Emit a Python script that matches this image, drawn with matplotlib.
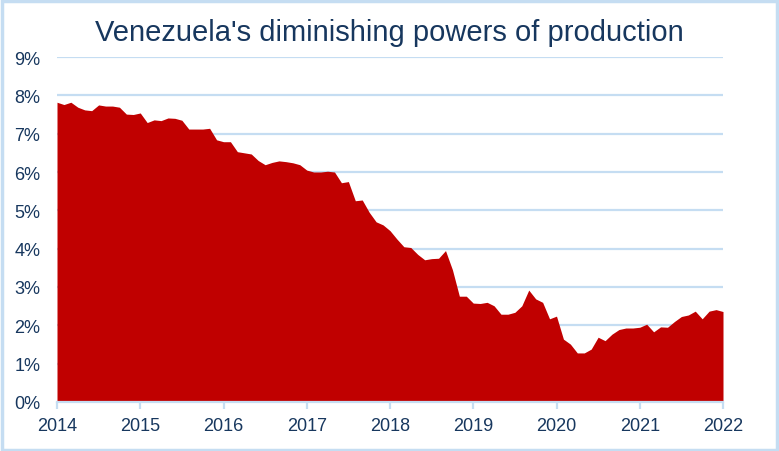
import matplotlib.pyplot as plt
import numpy as np

# monthly share, Jan 2014 .. Jan 2022 (%)
share = [
    7.82, 7.76, 7.82, 7.69, 7.62, 7.60, 7.75, 7.72, 7.72, 7.69, 7.51, 7.50,
    7.54, 7.29, 7.36, 7.34, 7.41, 7.40, 7.35, 7.12, 7.12, 7.12, 7.14, 6.84,
    6.79, 6.79, 6.53, 6.50, 6.47, 6.30, 6.19, 6.25, 6.29, 6.27, 6.24, 6.19,
    6.05, 6.00, 6.00, 6.02, 6.00, 5.72, 5.75, 5.25, 5.27, 4.95, 4.70, 4.62,
    4.47, 4.25, 4.05, 4.03, 3.85, 3.71, 3.74, 3.75, 3.95, 3.45, 2.76, 2.76,
    2.58, 2.57, 2.60, 2.51, 2.29, 2.29, 2.34, 2.51, 2.92, 2.69, 2.60, 2.17,
    2.24, 1.64, 1.51, 1.28, 1.28, 1.38, 1.69, 1.60, 1.77, 1.89, 1.93, 1.93,
    1.95, 2.03, 1.83, 1.96, 1.95, 2.10, 2.23, 2.27, 2.37, 2.17, 2.37, 2.41,
    2.36,
]
start_year = 2014
years = list(range(2014, 2023))
yticks = list(range(0, 10))

navy = '#17375E'
grid = '#C5DDF2'

plt.rcParams['font.family'] = ['Liberation Sans', 'DejaVu Sans']

x = start_year + np.arange(len(share)) / 12.0

fig = plt.figure(figsize=(7.79, 4.52), dpi=100)
ax = fig.add_axes([57/779, 1 - 403/452, (723 - 57)/779, (403 - 58)/452])

ax.fill_between(x, 0, share, color='#C00000', linewidth=0, zorder=3)

ax.set_xlim(2014, 2022)
ax.set_ylim(0, 9)
ax.set_xticks(years)
ax.set_xticklabels([str(y) for y in years])
ax.set_yticks(yticks)
ax.set_yticklabels([f'{v}%' for v in yticks])
ax.yaxis.grid(True, color=grid, linewidth=1.6, zorder=0)
ax.set_axisbelow(True)

for s in ['top', 'right', 'left']:
    ax.spines[s].set_visible(False)
ax.spines['bottom'].set_color(grid)
ax.spines['bottom'].set_linewidth(1.6)
ax.spines['bottom'].set_zorder(4)

ax.tick_params(axis='y', length=0, pad=12, labelsize=13, labelcolor=navy)
ax.tick_params(axis='x', length=5, width=1.6, color=grid, pad=6,
               labelsize=13, labelcolor=navy)

fig.text(0.5, 1 - 33/452, "Venezuela's diminishing powers of production",
         ha='center', va='center', fontsize=21, color=navy)

# light blue frame around the whole chart
fig.add_artist(plt.Rectangle((0.002, 0.003), 0.995, 0.993, transform=fig.transFigure,
                             fill=False, edgecolor=grid, linewidth=2.5))

fig.savefig('out.png', dpi=100)
